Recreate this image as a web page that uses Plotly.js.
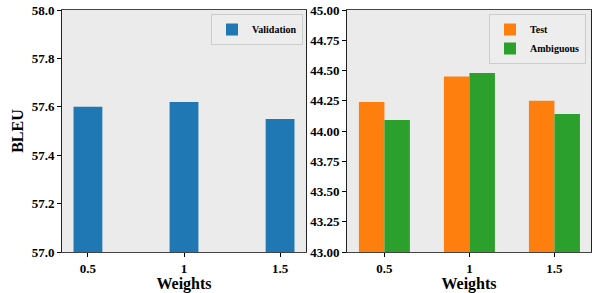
<!DOCTYPE html>
<html>
<head>
<meta charset="utf-8">
<script src="https://cdn.plot.ly/plotly-3.0.1.min.js"></script>
<style>html,body{margin:0;padding:0;background:#fff;}#chart{width:595px;height:293px;}</style>
</head>
<body>
<div id="chart"></div>
<script>
const weights = ["0.5", "1", "1.5"];
const validation = [57.60, 57.62, 57.55];
const test = [44.24, 44.45, 44.25];
const ambiguous = [44.09, 44.48, 44.14];

const font = {family: "Liberation Serif", color: "#000", weight: "bold"};
const tickFont = Object.assign({}, font, {size: 13});
const titleFont = Object.assign({}, font, {size: 16});
const legendFont = Object.assign({}, font, {size: 10});

const traces = [
  {type: "bar", x: weights, y: validation, name: "Validation", xaxis: "x", yaxis: "y",
   marker: {color: "#1f77b4"}, width: 0.3, offset: -0.15, legend: "legend"},
  {type: "bar", x: weights, y: test, name: "Test", xaxis: "x2", yaxis: "y2",
   marker: {color: "#ff7f0e"}, width: 0.3, offset: -0.3, legend: "legend2"},
  {type: "bar", x: weights, y: ambiguous, name: "Ambiguous", xaxis: "x2", yaxis: "y2",
   marker: {color: "#2ca02c"}, width: 0.3, offset: 0, legend: "legend2"}
];

const xCommon = {type: "category", tickfont: tickFont, ticks: "outside", ticklen: 4, tickcolor: "#000",
  showline: true, mirror: true, linecolor: "#444", linewidth: 1, showgrid: false, zeroline: false,
  automargin: false, title: {text: "Weights", font: titleFont, standoff: 2}};
const yCommon = {tickfont: tickFont, ticks: "outside", ticklen: 4, tickcolor: "#000",
  showline: true, mirror: true, linecolor: "#222", linewidth: 1, showgrid: false, zeroline: false,
  automargin: false};

const layout = {
  width: 595, height: 293,
  font: {family: "Liberation Serif", color: "#000"},
  margin: {l: 0, r: 0, t: 10, b: 41},
  paper_bgcolor: "#fff", plot_bgcolor: "#ebebeb",
  barmode: "overlay",
  xaxis: Object.assign({}, xCommon, {domain: [62/595, 306/595], range: [-0.27, 2.27]}),
  yaxis: Object.assign({}, yCommon, {range: [57, 58], dtick: 0.2, tick0: 57, tickformat: ".1f",
    title: {text: "BLEU", font: titleFont, standoff: 4}}),
  xaxis2: Object.assign({}, xCommon, {domain: [347/595, 591/595], range: [-0.44, 2.43], anchor: "y2"}),
  yaxis2: Object.assign({}, yCommon, {range: [43, 45], dtick: 0.25, tick0: 43, tickformat: ".2f", anchor: "x2"}),
  legend: {x: 303/595, y: 1 - 4/242, xanchor: "right", yanchor: "top", font: legendFont,
    bgcolor: "#ededed", bordercolor: "#cccccc", borderwidth: 1, tracegroupgap: 0},
  legend2: {x: 586/595, y: 1 - 4/242, xanchor: "right", yanchor: "top", font: legendFont,
    bgcolor: "#ededed", bordercolor: "#cccccc", borderwidth: 1, tracegroupgap: 0},
  showlegend: true
};

Plotly.newPlot("chart", traces, layout, {staticPlot: true, displayModeBar: false});
</script>
</body>
</html>
